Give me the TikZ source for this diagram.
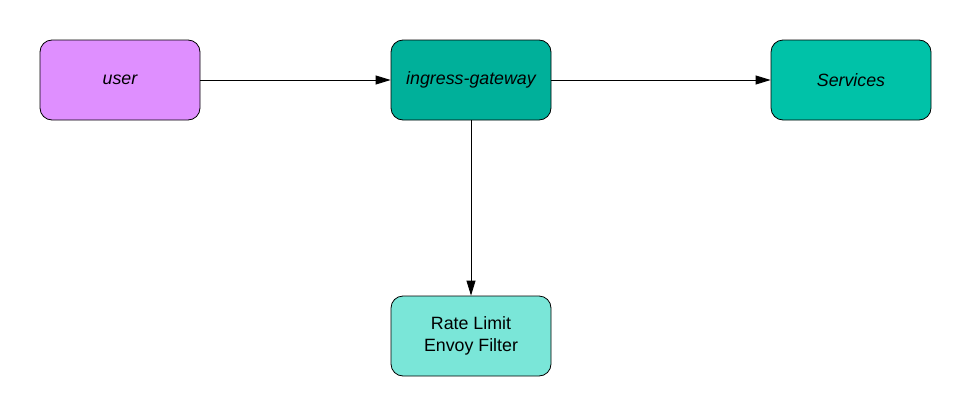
\documentclass[tikz,border=0pt]{standalone}
\usepackage{fontspec}
\setmainfont{Liberation Sans}
\usetikzlibrary{arrows.meta}
\definecolor{cuser}{HTML}{DF8FFF}
\definecolor{cgate}{HTML}{00B09A}
\definecolor{cserv}{HTML}{00C2A8}
\definecolor{crate}{HTML}{7AE6D8}
\tikzset{
  box/.style={draw=black, line width=0.8pt, rounded corners=12pt, minimum width=160pt, minimum height=80pt, inner sep=0pt, align=center, font=\fontsize{17.8}{21.5}\selectfont},
  conn/.style={draw=black, line width=0.8pt, -{Triangle[length=15pt,width=9pt]}}
}
\begin{document}
\begin{tikzpicture}[x=1pt,y=1pt]
\useasboundingbox (0,0) rectangle (971,-415);
\node[box, fill=cuser] (user) at (120,-80) {\itshape user};
\node[box, fill=cgate] (gw) at (471,-80) {\itshape ingress-gateway};
\node[box, fill=cserv] (svc) at (851,-80) {\itshape Services};
\node[box, fill=crate] (rl) at (471,-336) {Rate Limit\\Envoy Filter};
\draw[conn] (user.east) -- (gw.west);
\draw[conn] (gw.east) -- (svc.west);
\draw[conn] (gw.south) -- (rl.north);
\end{tikzpicture}
\end{document}
